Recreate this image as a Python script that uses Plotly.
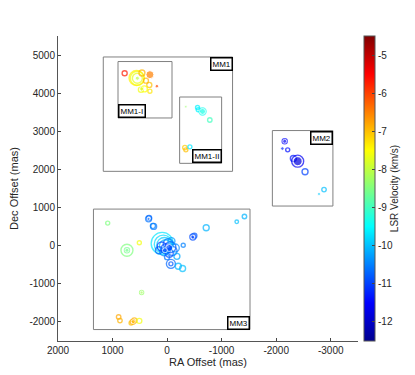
import plotly.graph_objects as go
import numpy as np

# open-ring maser spots: RA offset (mas), Dec offset (mas), V_lsr (km/s), peak flux (Jy)
ring_ra = [778, 545, 545, 560, 461, 388, 326, 417, 315, 480,
           -558, -571, -783, -326, -344, -418, -650,
           -2156, -2211, -2315, -2394, -2529, -2877,
           1089, 339, 330, 247, 260, 509, 736, 736,
           90, 70, 50, 30,
           -20, -60, 20, -100, 60, -40, -150, 100, -80, 150, -180, 0,
           -70, -70, -205, -284, -296, -472, -500, -717, -1277, -1418,
           467, 888, 864, 631, 600, 660, 509]
ring_dec = [4522, 4392, 4392, 4400, 4528, 4329, 4217, 4113, 4053, 4090,
            3625, 3565, 3296, 2574, 2514, 2592, 3521,
            2738, 2514, 2287, 2217, 1940, 1471,
            592, 704, 730, 506, 520, 78, -120, -120,
            60, 40, 20, 0,
            50, -40, -80, -140, -160, -200, -60, -20, 120, -120, -280, -300,
            -477, -477, -538, -600, 10, 227, 260, 470, 626, 766,
            -1226, -1868, -1964, -1998, -1960, -2030, -1972]
ring_vel = [-5.7, -7.6, -7.7, -7.4, -6.9, -6.9, -7.0, -7.5, -7.3, -7.6,
            -9.6, -9.6, -9.0, -7.1, -7.0, -9.7, -9.4,
            -11.5, -11.4, -11.3, -11.6, -11.0, -10.0,
            -8.5, -10.6, -10.7, -10.6, -10.5, -7.6, -8.5, -8.6,
            -9.7, -9.8, -9.9, -10.0,
            -10.6, -10.8, -10.9, -10.7, -10.5, -10.9, -10.4, -11.0, -10.3, -10.8, -10.2, -10.6,
            -10.7, -10.8, -10.1, -10.0, -10.5, -10.9, -10.8, -10.1, -10.0, -10.1,
            -8.3, -6.8, -6.9, -6.8, -6.9, -7.0, -7.6]
ring_flux = [2.8, 21.8, 11.0, 25.0, 4.0, 2.8, 2.8, 4.0, 1.8, 2.8,
             1.8, 1.8, 2.2, 2.2, 1.8, 1.8, 5.4,
             2.8, 1.8, 4.0, 16.0, 4.0, 2.2,
             1.8, 4.0, 2.8, 4.0, 2.8, 1.8, 16.0, 2.8,
             53.8, 36.0, 25.0, 16.0,
             11.0, 13.4, 11.0, 9.0, 7.1, 7.1, 7.1, 9.0, 5.4, 5.4, 4.0, 2.8,
             9.0, 1.8, 4.0, 4.0, 1.8, 4.0, 2.8, 4.0, 1.4, 2.2,
             1.8, 2.2, 2.2, 2.8, 2.8, 1.8, 2.8]

# bright (filled) spots
fill_ra = [315, 187, 545, 467, -344, -650, -2156, -2114, -2394, -2785,
           736, 339, -472, -40, 40, 467, 620]
fill_dec = [4486, 4183, 4392, 4110, 3643, 3521, 2738, 2548, 2217, 1356,
            -120, 704, 227, -60, -120, -1226, -1990]
fill_vel = [-6.5, -6.1, -8.0, -7.8, -8.3, -9.3, -11.6, -11.2, -11.8, -9.9,
            -8.6, -10.7, -11.0, -10.9, -10.8, -8.2, -6.9]
fill_flux = [7.1, 1.4, 1.8, 1.8, 0.7, 4.0, 1.8, 1.4, 9.0, 1.0,
             1.8, 1.0, 1.8, 5.4, 2.8, 1.0, 1.8]

x_ticks = [2000, 1000, 0, -1000, -2000, -3000]
y_ticks = [-2000, -1000, 0, 1000, 2000, 3000, 4000, 5000]
cbar_ticks = [-5, -6, -7, -8, -9, -10, -11, -12]

# region boxes: name, RA range, Dec range
regions = [
    ("MM1", 1170, -1200, 1950, 4950),
    ("MM1-I", 900, -90, 3350, 4830),
    ("MM1-II", -230, -1000, 2160, 3900),
    ("MM2", -1930, -3040, 1040, 3020),
    ("MM3", 1350, -1520, -2200, 960),
]
# where each label sits: (x corner index, y corner index, xanchor, yanchor)
label_pos = {
    "MM1": (1, 1, "right", "top"),
    "MM1-I": (0, 0, "left", "bottom"),
    "MM1-II": (1, 0, "right", "bottom"),
    "MM2": (1, 1, "right", "top"),
    "MM3": (1, 0, "right", "bottom"),
}

matlab_jet = [
    [0.0, "rgb(0,0,143)"], [0.125, "rgb(0,0,255)"], [0.375, "rgb(0,255,255)"],
    [0.625, "rgb(255,255,0)"], [0.875, "rgb(255,0,0)"], [1.0, "rgb(128,0,0)"],
]
vmin, vmax = -12.5, -4.5
font = "Liberation Sans, Arial, sans-serif"
txt = "#262626"

fig = go.Figure()

for name, x0, x1, y0, y1 in regions:
    fig.add_shape(type="rect", x0=x0, x1=x1, y0=y0, y1=y1,
                  line=dict(color="#808080", width=1), layer="below")
    xi, yi, xa, ya = label_pos[name]
    fig.add_annotation(x=(x0, x1)[xi], y=(y0, y1)[yi], text=name,
                       xanchor=xa, yanchor=ya, showarrow=False,
                       bgcolor="white", bordercolor="black", borderwidth=1.5,
                       borderpad=1, font=dict(size=8, color="black", family=font))

fig.add_trace(go.Scatter(
    x=ring_ra, y=ring_dec, mode="markers",
    marker=dict(symbol="circle-open", size=3 * np.sqrt(ring_flux),
                color=ring_vel, colorscale=matlab_jet, cmin=vmin, cmax=vmax,
                line=dict(width=1.4),
                showscale=True,
                colorbar=dict(
                    x=1.02, xanchor="left", xpad=0, y=0.5, len=1, lenmode="fraction",
                    ypad=0, thickness=11, outlinecolor="#555", outlinewidth=1,
                    tickvals=cbar_ticks, ticktext=[str(v) for v in cbar_ticks],
                    ticks="inside", ticklen=3, tickcolor="#444",
                    tickfont=dict(size=10, color=txt, family=font),
                    title=dict(text="LSR Velocity (km/s)", side="right",
                               font=dict(size=10, color=txt, family=font)))),
    showlegend=False, hoverinfo="x+y"))

fig.add_trace(go.Scatter(
    x=fill_ra, y=fill_dec, mode="markers",
    marker=dict(symbol="circle", size=3 * np.sqrt(fill_flux),
                color=fill_vel, colorscale=matlab_jet, cmin=vmin, cmax=vmax,
                showscale=False),
    showlegend=False, hoverinfo="x+y"))

fig.update_layout(
    width=415, height=375,
    margin=dict(l=50, r=65, t=28, b=42, autoexpand=False),
    paper_bgcolor="white", plot_bgcolor="white",
    font=dict(family=font, color=txt),
)
fig.update_xaxes(
    range=[2000, -3500], tickvals=x_ticks, ticktext=[str(v) for v in x_ticks],
    ticks="inside", ticklen=3, tickcolor="#444", automargin=False,
    showline=True, linecolor="#555", linewidth=1, mirror=False,
    showgrid=False, zeroline=False,
    tickfont=dict(size=10, color=txt),
    title=dict(text="RA Offset (mas)", font=dict(size=11, color=txt), standoff=2),
)
fig.update_yaxes(
    range=[-2500, 5500], tickvals=y_ticks, ticktext=[str(v) for v in y_ticks],
    ticks="inside", ticklen=3, tickcolor="#444", automargin=False,
    showline=True, linecolor="#555", linewidth=1, mirror=False,
    showgrid=False, zeroline=False,
    tickfont=dict(size=10, color=txt),
    title=dict(text="Dec Offset (mas)", font=dict(size=11, color=txt), standoff=10),
)

fig.write_html("out.html")
